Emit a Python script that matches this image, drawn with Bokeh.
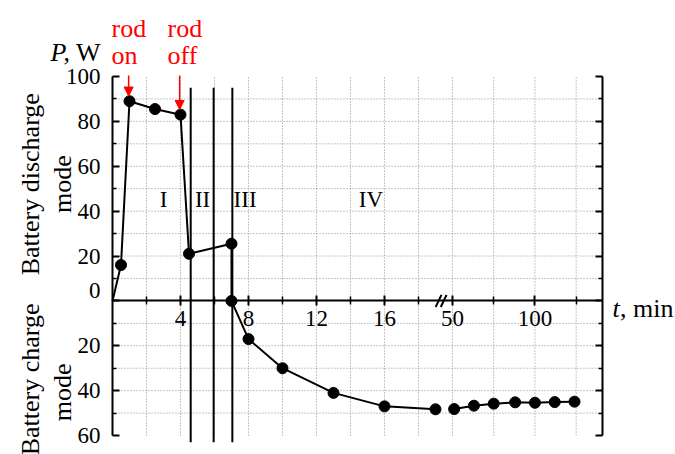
import numpy as np
from bokeh.plotting import figure
from bokeh.models import (Range1d, LinearAxis, FixedTicker, CustomJSTickFormatter,
                          Label, Arrow, NormalHead)
from bokeh.embed import file_html
from bokeh.resources import INLINE

# ---------------- data ----------------
t_early = [0, 0.5, 1, 2.5, 4, 4.5, 7, 7, 8, 10, 13, 16, 19]          # min
p_early = [0, 16, 89, 85.5, 83, 21, 25.5, 0, -17, -30, -41, -47, -48.3]  # W (negative = charge)
t_late = [51, 63, 75, 88, 100, 112, 124]                              # min
p_late = [-48.2, -46.7, -45.8, -45.2, -45.4, -45.1, -44.9]            # W

stage_bounds = [4.6, 5.95, 7.05]          # min, vertical stage borders
stage_names = ["I", "II", "III", "IV"]
stage_label_t = [3.0, 5.3, 7.8, 15.2]
stage_label_p = 45

rod_on_t, rod_on_p = 1, 89
rod_off_t, rod_off_p = 4, 83

x_major = [4, 8, 12, 16, 50, 100]
x_major_labels = ["4", "8", "12", "16", "50", "100"]
x_minor = [2, 6, 10, 14, 18, 75, 125]
x_grid = [2, 4, 6, 8, 10, 12, 14, 16, 18, 50, 75, 100, 125]
y_major = [-60, -40, -20, 0, 20, 40, 60, 80, 100]
y_minor = [-50, -30, -10, 10, 30, 50, 70, 90]
y_grid = [-50, -40, -30, -20, -10, 10, 20, 30, 40, 50, 60, 70, 80, 90]

# ---------------- broken time axis ----------------
BREAK_X = 20.0      # axis position where the second part (t = 50 min) starts
BREAK_T = 50.0
K2 = 0.097          # axis units per minute after the break
X_END = 28.82
BREAK_MARK = 19.33
Y_MIN, Y_MAX = -60, 100


def tx(t):
    return t if t < BREAK_X else BREAK_X + (t - BREAK_T) * K2


FONT = "Liberation Serif"
TICK_FS = "23px"
LAB_FS = "26px"
GRID_COLOR = "#8c8c8c"

# the frame covers the whole canvas; axes are pinned with fixed_location
p = figure(width=675, height=454, x_range=Range1d(-6.588, 33.118), y_range=Range1d(-68.45, 133.87),
           output_backend="svg", toolbar_location=None,
           x_axis_location=None, y_axis_location=None,
           min_border_left=0, min_border_right=0, min_border_top=0, min_border_bottom=0)
p.outline_line_color = None
p.background_fill_color = "white"
p.border_fill_color = "white"
p.xgrid.visible = False
p.ygrid.visible = False

# grid
gx = [tx(v) for v in x_grid]
p.segment(x0=gx, x1=gx, y0=[Y_MIN] * len(gx), y1=[Y_MAX] * len(gx),
          line_color=GRID_COLOR, line_width=1, line_dash="1 2")
p.segment(x0=[0] * len(y_grid), x1=[X_END] * len(y_grid), y0=y_grid, y1=y_grid,
          line_color=GRID_COLOR, line_width=1, line_dash="1 2")

# stage borders
p.segment(x0=stage_bounds, x1=stage_bounds, y0=[-63] * 3, y1=[95] * 3,
          line_color="black", line_width=2)

# data
xe = [tx(v) for v in t_early]
xl = [tx(v) for v in t_late]
p.line(xe, p_early, line_color="black", line_width=2)
p.scatter(xe[1:], p_early[1:], size=11, color="black")
p.line(xl, p_late, line_color="black", line_width=2)
p.scatter(xl, p_late, size=11, color="black")

# break marks
for bx in (BREAK_MARK - 0.15, BREAK_MARK + 0.15):
    p.segment(x0=[bx - 0.17], x1=[bx + 0.17], y0=[-2.7], y1=[2.7], line_color="black", line_width=2)

# x axis placed at P = 0
xaxis = LinearAxis(
    fixed_location=0, bounds=(0, X_END),
    ticker=FixedTicker(ticks=[tx(v) for v in x_major], minor_ticks=[tx(v) for v in x_minor]),
    formatter=CustomJSTickFormatter(
        args=dict(pos=[tx(v) for v in x_major], labels=x_major_labels),
        code="for (let i = 0; i < pos.length; i++) { if (Math.abs(pos[i] - tick) < 1e-6) return labels[i]; } return '';"),
    axis_line_width=2, axis_line_color="black",
    major_tick_in=5, major_tick_out=5, minor_tick_in=4, minor_tick_out=4,
    major_tick_line_width=2, minor_tick_line_width=1.5,
    major_label_text_font=FONT, major_label_text_font_size=TICK_FS,
    major_label_standoff=5, major_label_text_color="black")
p.add_layout(xaxis, "below")

ylabels = {v: ("" if v == 0 else str(abs(v))) for v in y_major}
yaxis = LinearAxis(
    fixed_location=0, bounds=(Y_MIN, Y_MAX),
    ticker=FixedTicker(ticks=y_major, minor_ticks=y_minor),
    major_label_overrides=ylabels,
    axis_line_width=2, axis_line_color="black",
    major_tick_in=7, major_tick_out=0, minor_tick_in=4, minor_tick_out=0,
    major_tick_line_width=2, minor_tick_line_width=1.5,
    major_label_text_font=FONT, major_label_text_font_size=TICK_FS,
    major_label_standoff=12, major_label_text_color="black")
p.add_layout(yaxis, "left")

raxis = LinearAxis(
    fixed_location=X_END, bounds=(Y_MIN, Y_MAX),
    ticker=FixedTicker(ticks=y_major, minor_ticks=y_minor),
    formatter=CustomJSTickFormatter(code="return '';"),
    axis_line_width=2, axis_line_color="black",
    major_tick_in=7, major_tick_out=0, minor_tick_in=4, minor_tick_out=0,
    major_tick_line_width=2, minor_tick_line_width=1.5,
    major_label_text_font_size="1px")
p.add_layout(raxis, "right")

# zero label lifted above the time axis
p.add_layout(Label(x=-0.7, y=4.6, text="0", text_align="right", text_baseline="middle",
                   text_font=FONT, text_font_size=TICK_FS, text_color="black"))

# stage labels
for name, t in zip(stage_names, stage_label_t):
    p.add_layout(Label(x=tx(t), y=stage_label_p, text=name, text_align="center",
                       text_baseline="middle", text_font=FONT, text_font_size="23px",
                       text_color="black"))

# axis titles
p.add_layout(Label(x=-3.65, y=110.7, text="P", text_font=FONT, text_font_style="italic",
                   text_font_size=LAB_FS, text_baseline="alphabetic", text_color="black"))
p.add_layout(Label(x=-2.88, y=110.7, text=", W", text_font=FONT,
                   text_font_size=LAB_FS, text_baseline="alphabetic", text_color="black"))
p.add_layout(Label(x=29.41, y=-3.4, text="t", text_font=FONT, text_font_style="italic",
                   text_font_size=LAB_FS, text_baseline="alphabetic", text_color="black"))
p.add_layout(Label(x=29.86, y=-3.4, text=", min", text_font=FONT,
                   text_font_size=LAB_FS, text_baseline="alphabetic", text_color="black"))

for txt, x, y in [("Battery discharge", -4.85, 52), ("mode", -2.94, 52),
                  ("Battery charge", -4.85, -35), ("mode", -2.94, -40.8)]:
    p.add_layout(Label(x=x, y=y, text=txt, angle=np.pi / 2, text_align="center",
                       text_baseline="alphabetic", text_font=FONT, text_font_size=LAB_FS,
                       text_color="black"))

# rod on / off
RED = "#ff0000"
for t, pv, word, xl_ in [(rod_on_t, rod_on_p, "on", -0.06), (rod_off_t, rod_off_p, "off", 3.24)]:
    p.add_layout(Label(x=xl_, y=121.4, text="rod", text_font=FONT, text_font_size=LAB_FS,
                       text_baseline="alphabetic", text_color=RED))
    p.add_layout(Label(x=xl_, y=109.4, text=word, text_font=FONT, text_font_size=LAB_FS,
                       text_baseline="alphabetic", text_color=RED))
    p.add_layout(Arrow(x_start=tx(t) - 0.05, y_start=100.5, x_end=tx(t) - 0.05, y_end=pv + 2.3,
                       line_color=RED, line_width=1.5,
                       end=NormalHead(size=9, fill_color=RED, line_color=RED, line_width=1)))

open("out.html", "w").write(file_html(p, INLINE))
